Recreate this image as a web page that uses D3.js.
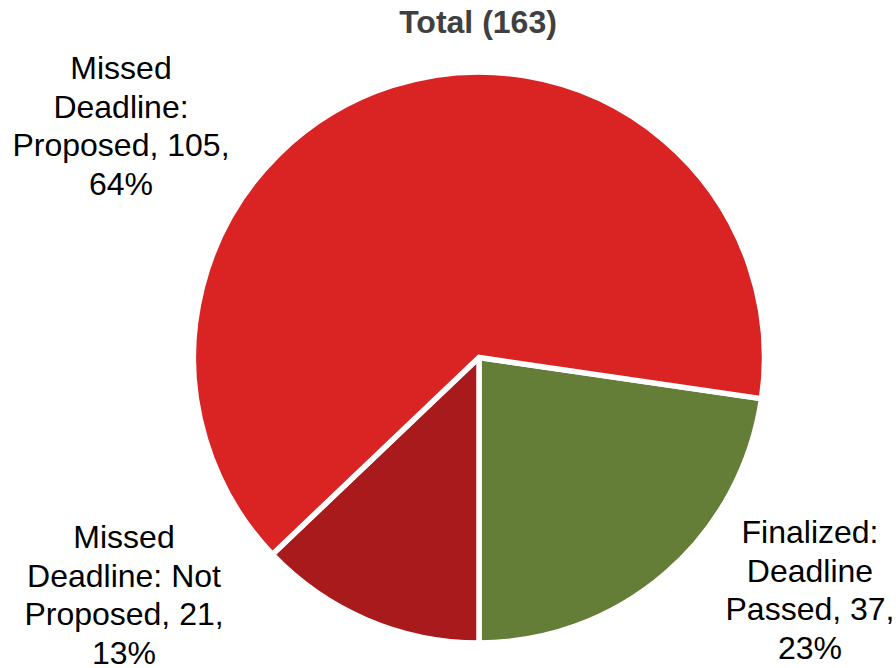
<!DOCTYPE html>
<html><head><meta charset="utf-8">
<script src="https://cdn.jsdelivr.net/npm/d3@7"></script>
<style>html,body{margin:0;padding:0;background:#fff;}</style>
</head><body>
<svg id="chart" width="896" height="668"></svg>
<script>
const title = "Total (163)";
const categories = ["Finalized: Deadline Passed", "Missed Deadline: Not Proposed", "Missed Deadline: Proposed"];
const values = [37, 21, 105];
const percents = ["23%", "13%", "64%"];
const colors = ["#647D37", "#A81A1B", "#DA2424"];
const labelLines = [
  ["Finalized:", "Deadline", "Passed, 37,", "23%"],
  ["Missed", "Deadline: Not", "Proposed, 21,", "13%"],
  ["Missed", "Deadline:", "Proposed, 105,", "64%"]
];
const labelPos = [[810, 543], [124, 548], [121, 79]];

const svg = d3.select("#chart");
const cx = 479, cy = 357.5, r = 285.5;
const total = d3.sum(values);
const start = Math.PI - 2 * Math.PI * values[0] / total;

const pie = d3.pie().sort(null).value(d => d).startAngle(start).endAngle(start + 2 * Math.PI);
const arc = d3.arc().innerRadius(0).outerRadius(r);

const g = svg.append("g").attr("transform", `translate(${cx},${cy})`);
g.selectAll("path").data(pie(values)).enter().append("path")
  .attr("d", arc)
  .attr("fill", (d, i) => colors[i])
  .attr("stroke", "#fff")
  .attr("stroke-width", 5.5)
  .attr("stroke-linejoin", "miter");

svg.append("text").attr("x", 478).attr("y", 33)
  .attr("text-anchor", "middle")
  .attr("font-family", "Liberation Sans, Arial, sans-serif")
  .attr("font-weight", "bold").attr("font-size", 32)
  .attr("fill", "#404040").text(title);

labelLines.forEach((lines, i) => {
  const t = svg.append("text")
    .attr("text-anchor", "middle")
    .attr("font-family", "Liberation Sans, Arial, sans-serif")
    .attr("font-size", 32).attr("fill", "#000");
  lines.forEach((ln, j) => {
    t.append("tspan").attr("x", labelPos[i][0]).attr("y", labelPos[i][1] + j * 38.5).text(ln);
  });
});
</script>
</body></html>
